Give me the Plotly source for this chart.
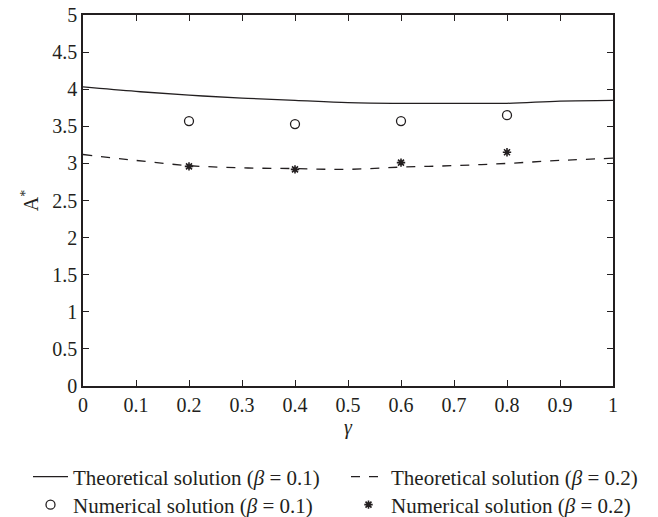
import plotly.graph_objects as go

gamma_theory = [0.0, 0.1, 0.2, 0.3, 0.4, 0.5, 0.6, 0.7, 0.8, 0.9, 1.0]
theory_b01 = [4.03, 3.97, 3.92, 3.88, 3.85, 3.82, 3.81, 3.81, 3.81, 3.84, 3.85]
theory_b02 = [3.12, 3.04, 2.97, 2.94, 2.93, 2.92, 2.95, 2.97, 3.00, 3.04, 3.07]

gamma_num = [0.2, 0.4, 0.6, 0.8]
num_b01 = [3.57, 3.53, 3.57, 3.65]
num_b02 = [2.96, 2.92, 3.01, 3.15]

x_ticks = [0, 0.1, 0.2, 0.3, 0.4, 0.5, 0.6, 0.7, 0.8, 0.9, 1]
x_tick_labels = ["0", "0.1", "0.2", "0.3", "0.4", "0.5", "0.6", "0.7", "0.8", "0.9", "1"]
y_ticks = [0, 0.5, 1, 1.5, 2, 2.5, 3, 3.5, 4, 4.5, 5]
y_tick_labels = ["0", "0.5", "1", "1.5", "2", "2.5", "3", "3.5", "4", "4.5", "5"]

FONT = "Liberation Serif, Times New Roman, serif"
INK = "#231f20"
FS = 20
LFS = 21

fig = go.Figure()
fig.add_trace(go.Scatter(x=gamma_theory, y=theory_b01, mode="lines", line=dict(color=INK, width=1.3, shape="spline"),
                         name="Theoretical solution (<i>β</i> = 0.1)", legend="legend"))
fig.add_trace(go.Scatter(x=gamma_theory, y=theory_b02, mode="lines", line=dict(color=INK, width=1.3, dash="dash", shape="spline"),
                         name="Theoretical solution (<i>β</i> = 0.2)", legend="legend2"))
fig.add_trace(go.Scatter(x=gamma_num, y=num_b01, mode="markers",
                         marker=dict(symbol="circle-open", size=9, color=INK, line=dict(width=1.3, color=INK)),
                         name="Numerical solution (<i>β</i> = 0.1)", legend="legend3"))
fig.add_trace(go.Scatter(x=gamma_num, y=num_b02, mode="markers",
                         marker=dict(symbol="asterisk-open", size=7, color=INK, line=dict(width=1.6, color=INK)),
                         name="Numerical solution (<i>β</i> = 0.2)", legend="legend4"))

axis_common = dict(showline=True, linecolor=INK, linewidth=1.6, mirror="ticks", ticks="inside",
                   ticklen=6, tickcolor=INK, tickwidth=1, showgrid=False, zeroline=False,
                   ticklabeloverflow="allow",
                   tickfont=dict(family=FONT, size=FS, color=INK))

fig.update_xaxes(range=[0, 1], tickvals=x_ticks, ticktext=x_tick_labels,
                 title=dict(text="<i>γ</i>", font=dict(family=FONT, size=FS, color=INK), standoff=4),
                 **axis_common)
fig.update_yaxes(range=[0, 5], tickvals=y_ticks, ticktext=y_tick_labels,
                 title=dict(text="A<sup>*</sup>", font=dict(family=FONT, size=FS, color=INK), standoff=8),
                 **axis_common)

# page body adds an 8px offset; figure coordinates below are page coords minus 8
OFF = 8
W, H = 658 - OFF, 517 - OFF
PLOT_L, PLOT_R, PLOT_T, PLOT_B = 83 - OFF, 613 - OFF, 15 - OFF, 386 - OFF
pw, ph = PLOT_R - PLOT_L, PLOT_B - PLOT_T

def px_x(px):
    return (px - OFF - PLOT_L) / pw

def px_y(py):
    return (PLOT_B - (py - OFF)) / ph

def leg(xpx, ypx):
    return dict(x=px_x(xpx), xanchor="left", y=px_y(ypx), yanchor="middle",
                font=dict(family=FONT, size=LFS, color=INK), itemwidth=35,
                bgcolor="rgba(0,0,0,0)", borderwidth=0)

fig.update_layout(
    width=W, height=H,
    margin=dict(l=PLOT_L, r=W - PLOT_R, t=PLOT_T, b=H - PLOT_B, autoexpand=False),
    paper_bgcolor="white", plot_bgcolor="white",
    font=dict(family=FONT, size=FS, color=INK),
    legend=leg(28, 477),
    legend2=leg(346, 477),
    legend3=leg(28, 505),
    legend4=leg(346, 505),
    showlegend=True,
)

fig.write_html("out.html")
